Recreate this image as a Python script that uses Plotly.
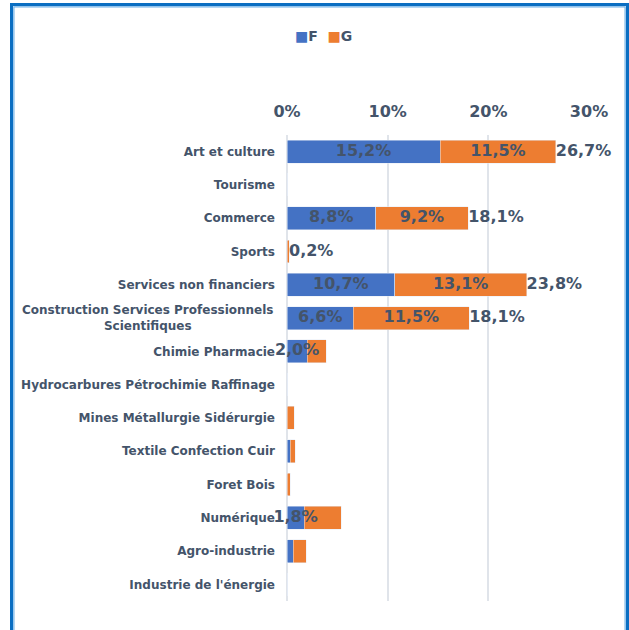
import plotly.graph_objects as go

categories = [
    "Art et culture", "Tourisme", "Commerce", "Sports", "Services non financiers",
    "Construction Services Professionnels<br>Scientifiques", "Chimie Pharmacie",
    "Hydrocarbures Pétrochimie Raffinage", "Mines Métallurgie Sidérurgie",
    "Textile Confection Cuir", "Foret Bois", "Numérique", "Agro-industrie",
    "Industrie de l'énergie",
]
F = [15.2, 0.0, 8.8, 0.0, 10.7, 6.6, 2.0, 0.0, 0.0, 0.3, 0.0, 1.7, 0.6, 0.0]
G = [11.5, 0.0, 9.2, 0.2, 13.1, 11.5, 1.9, 0.0, 0.7, 0.5, 0.3, 3.7, 1.3, 0.0]
F_labels = [15.2, None, 8.8, None, 10.7, 6.6, 2.0, None, None, None, None, 1.8, None, None]
G_labels = [11.5, None, 9.2, None, 13.1, 11.5, None, None, None, None, None, None, None, None]
total_labels = [26.7, None, 18.1, 0.2, 23.8, 18.1, None, None, None, None, None, None, None, None]
x_ticks = [0, 10, 20, 30]

TXT = "#44546A"
BLUE = "#4472C4"
ORANGE = "#ED7D31"
FONT = "DejaVu Sans"

W, H = 629, 630
ML, MR, MT, MB = 287, 40, 135, 29
PW, PH = W - ML - MR, H - MT - MB


def px_x(px):
    return (px - ML) / PW


def px_y(py):
    return 1 - (py - MT) / PH


def fmt(v):
    return "" if v is None else f"{v:.1f}".replace(".", ",") + "%"


multi = [c for c in categories if "<br>" in c]
ticktext = ["" if "<br>" in c else c for c in categories]
lab_font = dict(family=FONT, size=16, color=TXT, weight="bold")

fig = go.Figure()
fig.add_trace(go.Bar(y=categories, x=F, name="F", orientation="h", marker_color=BLUE))
fig.add_trace(go.Bar(y=categories, x=G, name="G", orientation="h", marker_color=ORANGE))
# segment labels (drawn after bars so overflowing text stays on top)
fig.add_trace(go.Scatter(
    y=categories, x=[f / 2 for f in F], mode="text", text=[fmt(v) for v in F_labels],
    textposition="middle center", cliponaxis=False, showlegend=False, textfont=lab_font))
fig.add_trace(go.Scatter(
    y=categories, x=[f + g / 2 for f, g in zip(F, G)], mode="text",
    text=[fmt(v) for v in G_labels], textposition="middle center", cliponaxis=False,
    showlegend=False, textfont=lab_font))
fig.add_trace(go.Scatter(
    y=categories, x=[f + g for f, g in zip(F, G)], mode="text",
    text=[fmt(v) for v in total_labels], textposition="middle right", cliponaxis=False,
    showlegend=False, textfont=lab_font))

annotations = [
    dict(xref="paper", yref="paper", x=px_x(323), y=px_y(36), xanchor="center", yanchor="middle",
         showarrow=False,
         text=f"<span style='color:{BLUE}'>■</span>F  <span style='color:{ORANGE}'>■</span>G",
         font=dict(family=FONT, size=14, color=TXT, weight="bold")),
]
for c in multi:
    annotations.append(dict(
        xref="paper", yref="y", x=0, y=c, xanchor="right", yanchor="middle", xshift=-11,
        showarrow=False, align="center", text=c,
        font=dict(family=FONT, size=12, color=TXT, weight="bold")))

shapes = [
    dict(type="rect", xref="paper", yref="paper",
         x0=px_x(11.5), x1=px_x(627.5), y0=px_y(660), y1=px_y(4.5),
         line=dict(color="#0A6EC2", width=3)),
    dict(type="rect", xref="paper", yref="paper",
         x0=px_x(13.9), x1=px_x(625.1), y0=px_y(660), y1=px_y(6.9),
         line=dict(color="#6FB0E6", width=1.2)),
]

n = len(categories)
fig.update_layout(
    width=W, height=H, margin=dict(l=ML, r=MR, t=MT, b=MB),
    barmode="stack", bargap=0.31, showlegend=False,
    paper_bgcolor="white", plot_bgcolor="white",
    font=dict(family=FONT, color=TXT, weight="bold"),
    annotations=annotations, shapes=shapes,
    xaxis=dict(range=[0, 30], side="top", tickvals=x_ticks,
               ticktext=[f"{t}%" for t in x_ticks], showgrid=True,
               gridcolor="#E0E4EA", gridwidth=2, zeroline=True, zerolinecolor="#E0E4EA",
               zerolinewidth=2, showline=False, ticklabelstandoff=14,
               tickfont=dict(family=FONT, size=16, color=TXT, weight="bold")),
    yaxis=dict(type="category", categoryorder="array", categoryarray=categories,
               range=[n - 0.5, -0.5], tickvals=categories, ticktext=ticktext,
               showgrid=False, zeroline=False, ticklabelstandoff=11,
               tickfont=dict(family=FONT, size=12, color=TXT, weight="bold")),
)

fig.write_html("out.html", config={"displayModeBar": False},
               post_script="document.body.style.margin='0';")
